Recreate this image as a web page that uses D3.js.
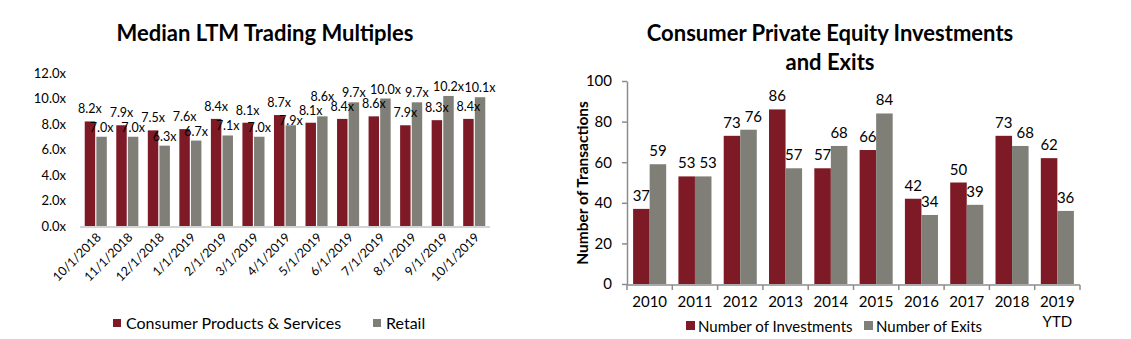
<!DOCTYPE html>
<html><head><meta charset="utf-8">
<script src="https://cdn.jsdelivr.net/npm/d3@7"></script>
<style>
body{margin:0;background:#fff;}
svg text{font-family:Lato,"Liberation Sans",sans-serif;fill:#000;}
</style></head>
<body>
<svg id="c" width="1131" height="339"></svg>
<script>
// ---- Left chart data ----
const months = ["10/1/2018","11/1/2018","12/1/2018","1/1/2019","2/1/2019","3/1/2019","4/1/2019","5/1/2019","6/1/2019","7/1/2019","8/1/2019","9/1/2019","10/1/2019"];
const consumerProducts = [8.2,7.9,7.5,7.6,8.4,8.1,8.7,8.1,8.4,8.6,7.9,8.3,8.4];
const retail = [7.0,7.0,6.3,6.7,7.1,7.0,7.9,8.6,9.7,10.0,9.7,10.2,10.1];
const leftTicks = [0,2,4,6,8,10,12];
const leftSeries = ["Consumer Products & Services","Retail"];

// ---- Right chart data ----
const years = ["2010","2011","2012","2013","2014","2015","2016","2017","2018","2019 YTD"];
const investments = [37,53,73,86,57,66,42,50,73,62];
const exits = [59,53,76,57,68,84,34,39,68,36];
const rightTicks = [0,20,40,60,80,100];
const rightSeries = ["Number of Investments","Number of Exits"];

const RED = "#7e1a25", GRAY = "#7f7f78";
const svg = d3.select("#c");

// tight glyph box of a middle-anchored label (digits only)
function glyphBox(node){
  const w = node.getComputedTextLength();
  const x = +node.getAttribute("x"), y = +node.getAttribute("y");
  const fs = parseFloat(node.style.fontSize);
  return {x:x-w/2, width:w, y:y-fs*0.72, height:fs*0.72};
}
function overlaps(a,b){
  return !(a.x+a.width <= b.x || b.x+b.width <= a.x || a.y+a.height <= b.y || b.y+b.height <= a.y);
}

// ================= LEFT =================
(function(){
  const x0 = d3.scaleBand().domain(months).range([80,490]).paddingInner(0.3).paddingOuter(0.15);
  const x1 = d3.scaleBand().domain([0,1]).range([0,x0.bandwidth()]).paddingInner(0.1);
  const y = d3.scaleLinear().domain([0,12]).range([226,73]);
  const g = svg.append("g");

  g.append("text").attr("x",265).attr("y",41).attr("text-anchor","middle")
    .style("font-weight","bold").style("font-size","22px").text("Median LTM Trading Multiples");

  // y tick labels
  const ya = d3.axisLeft(y).tickValues(leftTicks).tickSize(0).tickPadding(0).tickFormat(d=>d3.format(".1f")(d)+"x");
  const yg = g.append("g").attr("transform","translate(66,0)").call(ya);
  yg.select(".domain").remove();
  yg.selectAll("text").style("font-family","Lato, sans-serif").style("font-size","13px").attr("fill","#000");

  const sets = [consumerProducts, retail];
  const cols = [RED, GRAY];
  sets.forEach((vals,si)=>{
    g.selectAll(".b"+si).data(vals).enter().append("rect")
      .attr("x",(d,i)=>x0(months[i])+x1(si)).attr("width",x1.bandwidth())
      .attr("y",d=>y(d)).attr("height",d=>y(0)-y(d)).attr("fill",cols[si]);
  });
  // baseline
  g.append("line").attr("x1",80).attr("x2",490).attr("y1",y(0)+1).attr("y2",y(0)+1)
    .attr("stroke","#d4d4d4").attr("stroke-width",2);
  // labels
  const labs = sets.map((vals,si)=>
    g.selectAll(".l"+si).data(vals).enter().append("text")
      .attr("x",(d,i)=>x0(months[i])+x1(si)+x1.bandwidth()/2)
      .attr("y",d=>y(d)-(si===0?8:5)).attr("text-anchor","middle").style("font-size","12.5px")
      .text(d=>d3.format(".1f")(d)+"x").nodes());
  months.forEach((m,i)=>{
    const a = labs[0][i], b = labs[1][i];
    // same month collision: lift retail label above consumer label
    if (overlaps(glyphBox(a), glyphBox(b))) {
      d3.select(b).attr("y", +a.getAttribute("y") - 14);
    }
    // collision with next month's consumer label: lower retail label toward its bar
    const n = labs[0][i+1];
    if (n && overlaps(glyphBox(b), glyphBox(n))) {
      const nb = glyphBox(n), bb = glyphBox(b);
      const newY = Math.min(nb.y + nb.height + bb.height + 1, y(retail[i]) - 0.5);
      d3.select(b).attr("y", newY);
    }
  });
  // x labels rotated
  const xa = d3.axisBottom(x0).tickSize(0).tickPadding(0);
  const xg = g.append("g").attr("transform","translate(0,230)").call(xa);
  xg.select(".domain").remove();
  xg.selectAll("text").attr("text-anchor","end").attr("dy","0").attr("y",0)
    .attr("transform","translate(6,8) rotate(-45)")
    .style("font-family","Lato, sans-serif").style("font-size","12.5px").attr("fill","#000");

  // legend
  const lg = g.append("g");
  const lx = [113, 373];
  leftSeries.forEach((s,i)=>{
    lg.append("rect").attr("x",lx[i]).attr("y",319).attr("width",8).attr("height",8).attr("fill",cols[i]);
    lg.append("text").attr("x",lx[i]+13).attr("y",329).style("font-size","16px").text(s);
  });
})();

// ================= RIGHT =================
(function(){
  const x0 = d3.scaleBand().domain(years).range([627,1080]).paddingInner(0.27).paddingOuter(0.135);
  const x1 = d3.scaleBand().domain([0,1]).range([0,x0.bandwidth()]);
  const y = d3.scaleLinear().domain([0,100]).range([284,81]);
  const g = svg.append("g");

  g.append("text").attr("x",830).attr("y",41).attr("text-anchor","middle")
    .style("font-weight","bold").style("font-size","22px").text("Consumer Private Equity Investments");
  g.append("text").attr("x",830).attr("y",70).attr("text-anchor","middle")
    .style("font-weight","bold").style("font-size","22px").text("and Exits");

  g.append("text").attr("transform","translate(588,183) rotate(-90)").attr("text-anchor","middle")
    .style("font-weight","bold").style("font-size","15.5px").text("Number of Transactions");

  const sets = [investments, exits];
  const cols = [RED, GRAY];
  const labs = [];
  sets.forEach((vals,si)=>{
    g.selectAll(".rb"+si).data(vals).enter().append("rect")
      .attr("x",(d,i)=>x0(years[i])+x1(si)).attr("width",x1.bandwidth())
      .attr("y",d=>y(d)).attr("height",d=>y(0)-y(d)).attr("fill",cols[si]);
    labs.push(g.selectAll(".rl"+si).data(vals).enter().append("text")
      .attr("x",(d,i)=>x0(years[i])+x1(si)+x1.bandwidth()/2)
      .attr("y",d=>y(d)-8).attr("text-anchor","middle").style("font-size","15px").text(d=>d).nodes());
  });
  years.forEach((c,i)=>{
    const a = labs[0][i], b = labs[1][i];
    const ba = glyphBox(a), bb = glyphBox(b);
    if (overlaps(ba,bb)) {
      const need = (ba.x+ba.width) - bb.x + 4;
      d3.select(b).attr("x", +b.getAttribute("x") + need);
    }
  });

  // y axis
  const ya = d3.axisLeft(y).tickValues(rightTicks).tickSize(5).tickSizeOuter(0).tickPadding(10);
  const yg = g.append("g").attr("transform","translate(627,0)").call(ya);
  yg.select(".domain").attr("stroke","#8c8c8c").attr("stroke-width",1.5);
  yg.selectAll(".tick line").attr("stroke","#8c8c8c").attr("stroke-width",1.5);
  yg.selectAll("text").style("font-family","Lato, sans-serif").style("font-size","15px").attr("fill","#000");

  // x axis line
  g.append("line").attr("x1",627).attr("x2",1080).attr("y1",y(0)+1).attr("y2",y(0)+1)
    .attr("stroke","#8c8c8c").attr("stroke-width",1.5);
  // tick marks between categories
  const bounds = years.map(c=>x0(c)-x0.step()*x0.paddingInner()/2).concat([1080]);
  g.selectAll(".xt").data(bounds).enter().append("line")
    .attr("x1",d=>d).attr("x2",d=>d).attr("y1",y(0)+1).attr("y2",y(0)+6)
    .attr("stroke","#8c8c8c").attr("stroke-width",1.5);
  // x labels
  years.forEach(c=>{
    const parts = c.split(" ");
    const t = g.append("text").attr("x",x0(c)+x0.bandwidth()/2).attr("y",307).attr("text-anchor","middle").style("font-size","15px");
    parts.forEach((p,k)=>t.append("tspan").attr("x",x0(c)+x0.bandwidth()/2).attr("dy",k?20:0).text(p));
  });

  // legend
  const lx = [686, 864];
  rightSeries.forEach((s,i)=>{
    g.append("rect").attr("x",lx[i]).attr("y",321).attr("width",9).attr("height",9).attr("fill",cols[i]);
    g.append("text").attr("x",lx[i]+12).attr("y",332).style("font-size","15px").text(s);
  });
})();
</script>
</body></html>
